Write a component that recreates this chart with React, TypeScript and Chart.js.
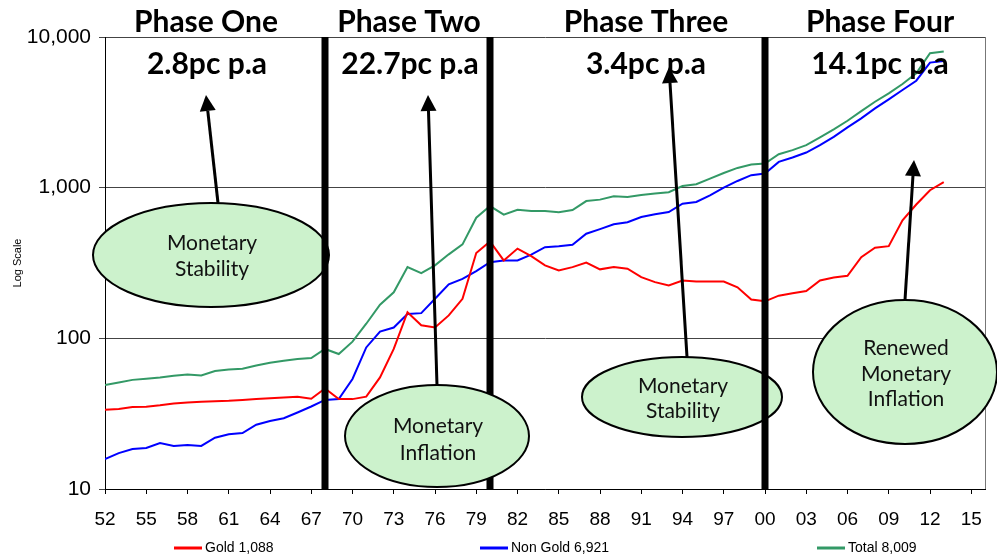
import React, { useEffect, useRef } from 'react';
import { Chart, registerables } from 'chart.js';

Chart.register(...registerables);

const years = [
  1952, 1953, 1954, 1955, 1956, 1957, 1958, 1959, 1960, 1961, 1962, 1963, 1964, 1965, 1966, 1967,
  1968, 1969, 1970, 1971, 1972, 1973, 1974, 1975, 1976, 1977, 1978, 1979, 1980, 1981, 1982, 1983,
  1984, 1985, 1986, 1987, 1988, 1989, 1990, 1991, 1992, 1993, 1994, 1995, 1996, 1997, 1998, 1999,
  2000, 2001, 2002, 2003, 2004, 2005, 2006, 2007, 2008, 2009, 2010, 2011, 2012, 2013,
];

const gold = [
  33.6, 34, 35, 35.2, 36, 37, 37.5, 38, 38.2, 38.5, 39, 39.5, 40, 40.5, 41, 39.7,
  46.5, 39.5, 39.5, 41, 55, 85, 149, 122, 118, 142, 183, 368, 440, 329, 394, 351,
  305, 282, 297, 318, 287, 297, 290, 255, 236, 224, 242, 238, 238, 238, 218, 181,
  176, 192, 199, 206, 242, 253, 260, 346, 399, 409, 607, 773, 962, 1088,
];

const nonGold = [
  15.8, 17.3, 18.4, 18.7, 20.2, 19.3, 19.6, 19.3, 21.9, 23.1, 23.5, 26.7, 28.3, 29.5, 32.2, 35.3,
  39, 39.5, 53.7, 87, 111, 118, 145, 147, 183, 228, 248, 279, 320, 329, 329, 359,
  403, 408, 418, 495, 531, 571, 589, 639, 666, 689, 783, 803, 890, 1000, 1108, 1210,
  1242, 1483, 1585, 1710, 1913, 2174, 2513, 2884, 3360, 3855, 4446, 5127, 6760, 6921,
];

const total = [
  49, 51, 53, 54, 55, 56.5, 57.6, 56.7, 60.7, 62, 62.8, 66, 68.8, 71, 73, 74,
  85, 78.7, 95, 125, 167, 202, 297, 271, 305, 361, 420, 632, 755, 662, 714, 700,
  700, 686, 711, 815, 833, 877, 867, 894, 914, 932, 1026, 1054, 1149, 1252, 1352, 1425,
  1447, 1667, 1775, 1915, 2155, 2436, 2781, 3223, 3717, 4227, 4875, 5742, 7800, 8009,
];

const xTickValues = [
  1952, 1955, 1958, 1961, 1964, 1967, 1970, 1973, 1976, 1979, 1982,
  1985, 1988, 1991, 1994, 1997, 2000, 2003, 2006, 2009, 2012, 2015,
];
const xTickLabels = [
  '52', '55', '58', '61', '64', '67', '70', '73', '76', '79', '82',
  '85', '88', '91', '94', '97', '00', '03', '06', '09', '12', '15',
];
const yTickValues = [10, 100, 1000, 10000];
const yTickLabels = ['10', '100', '1,000', '10,000'];

const seriesLabels = ['Gold 1,088', 'Non Gold 6,921', 'Total 8,009'];
const seriesColors = ['#ff0000', '#0000ff', '#339966'];

const phaseBoundaries = [1968, 1980, 2000];
const phaseTitles = ['Phase One', 'Phase Two', 'Phase Three', 'Phase Four'];
const phaseRates = ['2.8pc p.a', '22.7pc p.a', '3.4pc p.a', '14.1pc p.a'];
const calloutTexts = [
  ['Monetary', 'Stability'],
  ['Monetary', 'Inflation'],
  ['Monetary', 'Stability'],
  ['Renewed', 'Monetary', 'Inflation'],
];

// layout (pixels) for annotation shapes
const titleCenters = [206, 409, 646, 880];
const rateCenters = [207, 410, 646, 880];
const ellipses = [
  { cx: 211, cy: 255, rx: 118, ry: 52, lines: [250, 276] },
  { cx: 437, cy: 436, rx: 92, ry: 51, lines: [433, 460] },
  { cx: 682, cy: 397, rx: 100, ry: 40, lines: [393, 418] },
  { cx: 905, cy: 372, rx: 92, ry: 72, lines: [355, 381, 406] },
];
const arrows = [
  { x1: 218, y1: 203, x2: 206, y2: 95 },
  { x1: 437, y1: 385, x2: 428, y2: 95 },
  { x1: 687, y1: 357, x2: 669, y2: 67 },
  { x1: 905, y1: 300, x2: 914, y2: 160 },
];
const legendPos = [174, 480, 817];

const HEAD = "Lato, 'Open Sans', sans-serif";

function drawEllipse(ctx: CanvasRenderingContext2D, i: number) {
  const e = ellipses[i];
  ctx.beginPath();
  ctx.ellipse(e.cx, e.cy, e.rx, e.ry, 0, 0, Math.PI * 2);
  ctx.fillStyle = '#ccf2cc';
  ctx.fill();
  ctx.lineWidth = 2;
  ctx.strokeStyle = '#000';
  ctx.stroke();
  ctx.fillStyle = '#111';
  ctx.font = `21px ${HEAD}`;
  ctx.textAlign = 'center';
  ctx.textBaseline = 'alphabetic';
  calloutTexts[i].forEach((t, k) => ctx.fillText(t, e.cx + 1, e.lines[k]));
}

function drawArrow(ctx: CanvasRenderingContext2D, a: { x1: number; y1: number; x2: number; y2: number }) {
  const dx = a.x2 - a.x1;
  const dy = a.y2 - a.y1;
  const len = Math.hypot(dx, dy);
  const ux = dx / len;
  const uy = dy / len;
  const hl = 16;
  const hw = 8;
  const bx = a.x2 - ux * hl;
  const by = a.y2 - uy * hl;
  ctx.strokeStyle = '#000';
  ctx.lineWidth = 3;
  ctx.beginPath();
  ctx.moveTo(a.x1, a.y1);
  ctx.lineTo(bx, by);
  ctx.stroke();
  ctx.fillStyle = '#000';
  ctx.beginPath();
  ctx.moveTo(a.x2, a.y2);
  ctx.lineTo(bx - uy * hw, by + ux * hw);
  ctx.lineTo(bx + uy * hw, by - ux * hw);
  ctx.closePath();
  ctx.fill();
}

const annotationPlugin = {
  id: 'phaseAnnotations',
  afterDatasetsDraw(chart: any) {
    const { ctx, chartArea: a, scales } = chart;
    const x = scales.x;
    ctx.save();
    // right border of plot
    ctx.strokeStyle = '#777';
    ctx.lineWidth = 1;
    ctx.beginPath();
    ctx.moveTo(a.right + 0.5, a.top);
    ctx.lineTo(a.right + 0.5, a.bottom);
    ctx.stroke();

    drawEllipse(ctx, 0);
    drawEllipse(ctx, 2);
    drawEllipse(ctx, 3);
    ctx.fillStyle = '#000';
    phaseBoundaries.forEach((b) => {
      const px = x.getPixelForValue(b);
      ctx.fillRect(px - 3.5, a.top, 7, a.bottom - a.top + 1);
    });
    drawEllipse(ctx, 1);
    arrows.forEach((ar) => drawArrow(ctx, ar));

    ctx.fillStyle = '#000';
    ctx.textAlign = 'center';
    ctx.textBaseline = 'alphabetic';
    ctx.font = `bold 30px ${HEAD}`;
    phaseTitles.forEach((t, i) => ctx.fillText(t, titleCenters[i], 32));
    phaseRates.forEach((t, i) => ctx.fillText(t, rateCenters[i], 74));

    // legend
    ctx.textAlign = 'left';
    ctx.textBaseline = 'middle';
    ctx.font = "14px 'Liberation Sans Narrow', 'Liberation Sans', Arial, sans-serif";
    seriesLabels.forEach((l, i) => {
      const lx = legendPos[i];
      ctx.strokeStyle = seriesColors[i];
      ctx.lineWidth = 3;
      ctx.beginPath();
      ctx.moveTo(lx, 548);
      ctx.lineTo(lx + 28, 548);
      ctx.stroke();
      ctx.fillStyle = '#000';
      ctx.fillText(l, lx + 31, 548);
    });
    ctx.restore();
  },
};

export default function App() {
  const ref = useRef<HTMLCanvasElement>(null);
  useEffect(() => {
    if (!ref.current) return;
    const series = [gold, nonGold, total];
    const chart = new Chart(ref.current, {
      type: 'line',
      data: {
        datasets: series.map((s, i) => ({
          label: seriesLabels[i],
          data: years.map((yr, k) => ({ x: yr, y: s[k] })),
          borderColor: seriesColors[i],
          backgroundColor: seriesColors[i],
          borderWidth: 2,
          pointRadius: 0,
          tension: 0,
          fill: false,
        })),
      },
      options: {
        responsive: false,
        animation: false,
        layout: { padding: { top: 37, right: 12, left: 0, bottom: 0 } },
        plugins: { legend: { display: false }, tooltip: { enabled: false } },
        scales: {
          x: {
            type: 'linear',
            min: 1952,
            max: 2016,
            afterBuildTicks: (axis: any) => {
              axis.ticks = xTickValues.map((v) => ({ value: v }));
            },
            afterFit: (axis: any) => {
              axis.height = 559 - 489;
            },
            ticks: {
              autoSkip: false,
              maxRotation: 0,
              padding: 14,
              color: '#000',
              font: { family: "'Liberation Sans Narrow', 'Liberation Sans', Arial, sans-serif", size: 19 },
              callback: (_v: any, i: number) => xTickLabels[i],
            },
            grid: { drawOnChartArea: false, drawTicks: true, tickLength: 5, color: '#000' },
            border: { color: '#000', width: 1 },
          },
          y: {
            type: 'logarithmic',
            min: 10,
            max: 10000,
            afterBuildTicks: (axis: any) => {
              axis.ticks = yTickValues.map((v) => ({ value: v }));
            },
            afterFit: (axis: any) => {
              axis.width = 105;
            },
            ticks: {
              padding: 8,
              color: '#000',
              font: { family: "'Liberation Sans', Arial, sans-serif", size: 21 },
              callback: (_v: any, i: number) => yTickLabels[i],
            },
            grid: { color: '#444', lineWidth: 1, tickLength: 6 },
            border: { color: '#000', width: 1 },
            title: {
              display: true,
              text: 'Log Scale',
              color: '#000',
              padding: { top: 11, bottom: 0 },
              font: { family: "'Liberation Sans', Arial, sans-serif", size: 11 },
            },
          },
        },
      },
      plugins: [annotationPlugin],
    } as any);
    return () => chart.destroy();
  }, []);
  return (
    <div style={{ position: 'fixed', left: 0, top: 0, width: 997, height: 559, background: '#fff' }}>
      <canvas ref={ref} width={997} height={559} style={{ display: 'block', width: 997, height: 559 }} />
    </div>
  );
}
